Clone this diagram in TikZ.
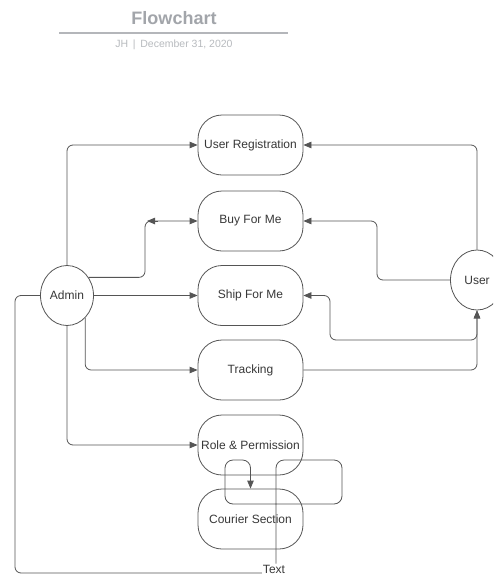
\documentclass[tikz,border=0pt]{standalone}
\usepackage{fontspec}
\setmainfont{Liberation Sans}
\usetikzlibrary{shapes.geometric,arrows.meta,calc}
\definecolor{linec}{HTML}{555555}
\definecolor{textc}{HTML}{383838}
\definecolor{titlec}{HTML}{A2A5AA}
\definecolor{subc}{HTML}{B8BBBF}
\definecolor{rulec}{HTML}{B4B6BA}
\tikzset{
  flowbox/.style={draw=linec, line width=0.8pt, rounded corners=24pt, minimum width=105pt, minimum height=60pt, inner sep=0pt, text=textc, font=\fontsize{12}{14}\selectfont},
  actor/.style={draw=linec, line width=0.8pt, ellipse, minimum width=53pt, minimum height=60pt, inner sep=0pt, text=textc, font=\fontsize{12}{14}\selectfont},
  conn/.style={draw=linec, line width=0.8pt, rounded corners=6pt},
  arr/.style={conn, -{Triangle[length=8pt,width=6.5pt]}},
  darr/.style={conn, {Triangle[length=8pt,width=6.5pt]}-{Triangle[length=8pt,width=6.5pt]}},
}
\begin{document}
\begin{tikzpicture}[x=1pt,y=-1pt]
\useasboundingbox (0,0) rectangle (493,576);
\clip (0,0) rectangle (493,576);
\fill[white] (0,0) rectangle (493,576);
% header
\node[font=\bfseries\fontsize{18}{20}\selectfont, text=titlec] (title) at (174,18) {Flowchart};
\coordinate (r1) at (59,33);
\coordinate (r2) at (288,33);
\draw[rulec, line width=1.3pt] (r1) -- (r2);
\node[font=\fontsize{10.5}{12}\selectfont, text=subc] (sub) at (174,44.5) {JH \,|\, December 31, 2020};
% nodes
\node[flowbox] (ureg) at (250.5,145) {User Registration};
\node[flowbox] (buy) at (250.5,221) {Buy For Me};
\node[flowbox] (ship) at (250.5,295.5) {Ship For Me};
\node[flowbox] (track) at (250.5,370) {Tracking};
\node[flowbox] (role) at (250.5,445) {Role \& Permission};
\node[flowbox] (cour) at (250.5,519) {Courier Section};
\node[actor] (admin) at (67,295.5) {Admin};
\node[actor] (user) at (477,280) {User};
\node[font=\fontsize{12}{14}\selectfont, text=textc, inner sep=1pt] (txt) at (274,569) {Text};
% admin connectors
\draw[arr] (admin.north) |- (ureg.west);
\coordinate (bk) at (145,221);
\draw[arr] (admin.40) -| (bk) -- (buy.west);
\draw[draw=linec, line width=0.8pt, -{Triangle[length=8pt,width=6.5pt]}] ($(bk)+(13,0)$) -- ($(bk)+(2,0)$);
\draw[arr] (admin.east) -- (ship.west);
\draw[arr] (admin.-51) |- (track.west);
\draw[arr] (admin.south) |- (role.west);
\coordinate (lb) at (15,573);
\draw[conn] (admin.west) -| (lb) -- (lb -| txt.west);
% loop to courier
\coordinate (lp1) at (342,460);
\coordinate (lp2) at (225,504);
\draw[arr, rounded corners=8pt] ([xshift=2pt]txt.north) |- (lp1) |- (lp2) |- (cour.north |- lp1) -- (cour.north);
% user connectors
\draw[arr] (user.north) |- (ureg.east);
\coordinate (ub) at (377,280);
\draw[arr] (user.west) -- (ub) |- (buy.east);
\coordinate (us) at (330,340);
\draw[darr] (ship.east) -| (us) -| (user.south);
\draw[arr] (track.east) -| (user.south);
\end{tikzpicture}
\end{document}
